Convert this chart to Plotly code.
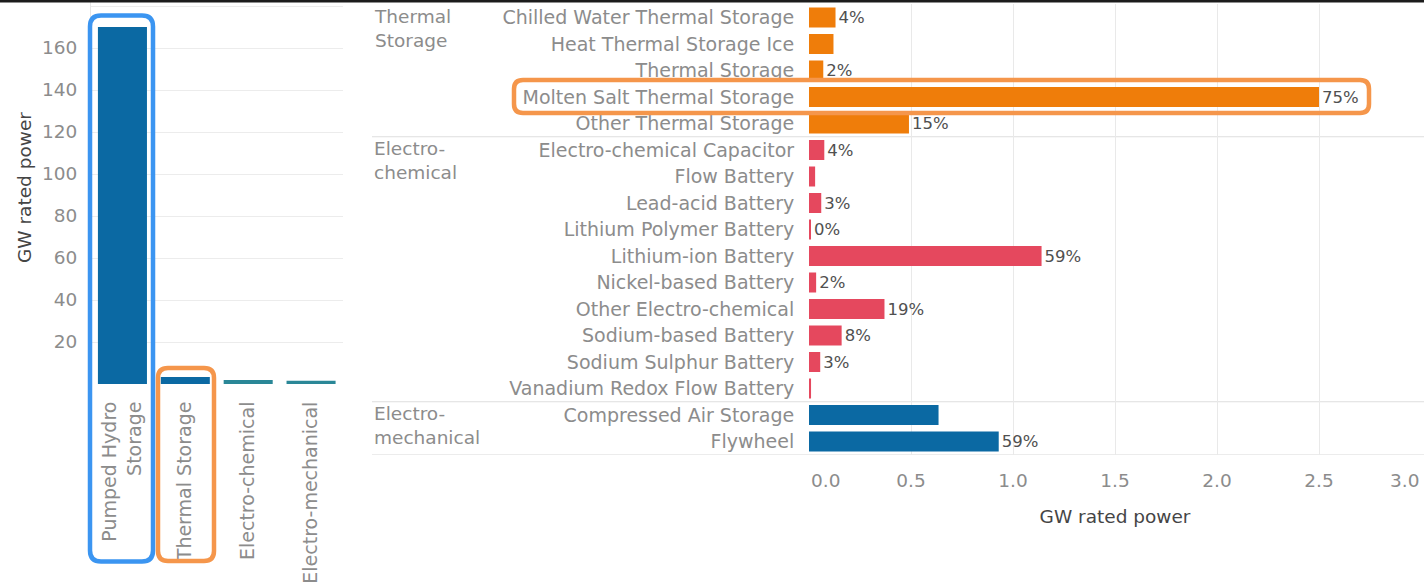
import plotly.graph_objects as go

W, H = 1424, 585
FONT = "DejaVu Sans"
GRAY = "#8c8c8c"
DARK = "#454545"

# ---- left chart data ----
groups = ["Pumped Hydro<br>Storage", "Thermal Storage", "Electro-chemical", "Electro-mechanical"]
group_gw = [170.0, 3.31, 1.94, 1.57]
group_colors = ["#0b69a3", "#0b69a3", "#2a8797", "#2a8797"]
left_ticks = [20, 40, 60, 80, 100, 120, 140, 160, 180]
left_ticktext = ["20", "40", "60", "80", "100", "120", "140", "160", ""]

# ---- right chart data ----
techs = [
    "Chilled Water Thermal Storage", "Heat Thermal Storage Ice", "Thermal Storage",
    "Molten Salt Thermal Storage", "Other Thermal Storage",
    "Electro-chemical Capacitor", "Flow Battery", "Lead-acid Battery",
    "Lithium Polymer Battery", "Lithium-ion Battery", "Nickel-based Battery",
    "Other Electro-chemical", "Sodium-based Battery", "Sodium Sulphur Battery",
    "Vanadium Redox Flow Battery",
    "Compressed Air Storage", "Flywheel",
]
tech_gw = [0.13, 0.12, 0.07, 2.50, 0.49,
           0.075, 0.03, 0.06, 0.006, 1.14, 0.035, 0.37, 0.16, 0.055, 0.01,
           0.635, 0.93]
tech_labels = ["4%", "", "2%", "75%", "15%",
               "4%", "", "3%", "0%", "59%", "2%", "19%", "8%", "3%", "",
               "", "59%"]
tech_group = ["Thermal"] * 5 + ["Electro-chemical"] * 10 + ["Electro-mechanical"] * 2
group_color_map = {"Thermal": "#ef7d0a", "Electro-chemical": "#e5485e", "Electro-mechanical": "#0b69a3"}
group_titles = ["Thermal<br>Storage", "Electro-<br>chemical", "Electro-<br>mechanical"]
group_first_row = [0, 5, 15]
separators = [4.5, 14.5, 16.5]
right_ticks = [0, 0.5, 1.0, 1.5, 2.0, 2.5, 3.0]
right_ticktext = ["", "0.5", "1.0", "1.5", "2.0", "2.5", ""]

def X(x):
    return x / W

def Y(y):
    return 1 - y / H

fig = go.Figure()

fig.add_trace(go.Bar(
    x=groups, y=group_gw, marker=dict(color=group_colors, line=dict(width=0)),
    width=0.78, xaxis="x", yaxis="y", showlegend=False, hoverinfo="x+y"))

fig.add_trace(go.Bar(
    y=techs, x=tech_gw, orientation="h", width=0.755,
    marker=dict(color=[group_color_map[g] for g in tech_group], line=dict(width=0)),
    text=tech_labels, textposition="outside", constraintext="none", cliponaxis=False,
    textfont=dict(family=FONT, size=16.5, color="#505050"),
    xaxis="x2", yaxis="y2", showlegend=False))

shapes = []
# top dark border
shapes.append(dict(type="rect", xref="paper", yref="paper", x0=0, x1=1, y0=Y(2.5), y1=1,
                   fillcolor="#1c1c1c", line=dict(width=0), layer="above"))
for s in separators:
    shapes.append(dict(type="line", xref="paper", yref="y2", x0=X(372), x1=1, y0=s, y1=s,
                       line=dict(color="#dedede", width=1.2), layer="below"))

def rrect(x0, y0, x1, y1, r, color, w=4.5):
    p = (f"M {X(x0+r)},{Y(y0)} L {X(x1-r)},{Y(y0)} Q {X(x1)},{Y(y0)} {X(x1)},{Y(y0+r)} "
         f"L {X(x1)},{Y(y1-r)} Q {X(x1)},{Y(y1)} {X(x1-r)},{Y(y1)} "
         f"L {X(x0+r)},{Y(y1)} Q {X(x0)},{Y(y1)} {X(x0)},{Y(y1-r)} "
         f"L {X(x0)},{Y(y0+r)} Q {X(x0)},{Y(y0)} {X(x0+r)},{Y(y0)} Z")
    return dict(type="path", xref="paper", yref="paper", path=p,
                line=dict(color=color, width=w), fillcolor="rgba(0,0,0,0)", layer="above")

shapes.append(rrect(90, 15.5, 153, 561.5, 11, "#3b95f1"))
shapes.append(rrect(158, 368, 214, 561, 10, "#f5964b"))
shapes.append(rrect(514, 80, 1369, 113, 9, "#f5964b"))

annotations = []
for t, r in zip(group_titles, group_first_row):
    annotations.append(dict(text=t, xref="paper", yref="y2", x=X(372), y=r + 0.4,
                            xanchor="left", yanchor="middle", align="left", showarrow=False,
                            font=dict(family=FONT, size=18.5, color=GRAY)))
# flush end tick labels
annotations.append(dict(text="0.0", xref="x2", yref="paper", x=right_ticks[0], y=Y(480),
                        xanchor="left", yanchor="middle", showarrow=False,
                        font=dict(family=FONT, size=18.5, color=GRAY)))
annotations.append(dict(text="3.0", xref="x2", yref="paper", x=right_ticks[-1], y=Y(480),
                        xanchor="right", yanchor="middle", showarrow=False,
                        font=dict(family=FONT, size=18.5, color=GRAY)))
# left y-axis title
annotations.append(dict(text="GW rated power", xref="paper", yref="paper", x=X(25), y=Y(188),
                        textangle=-90, xanchor="center", yanchor="middle", showarrow=False,
                        font=dict(family=FONT, size=18.5, color=DARK)))

fig.update_layout(
    width=W, height=H, margin=dict(l=0, r=0, t=0, b=0),
    paper_bgcolor="white", plot_bgcolor="white",
    font=dict(family=FONT, size=18.5, color=GRAY),
    shapes=shapes, annotations=annotations,
    xaxis=dict(domain=[X(91), X(342.5)], anchor="y", type="category",
               tickangle=-90, ticks="outside", ticklen=9, tickcolor="rgba(0,0,0,0)",
               showgrid=False, showline=False, zeroline=False,
               tickfont=dict(family=FONT, size=19, color=GRAY)),
    yaxis=dict(domain=[Y(384), 1], anchor="x", range=[0, 384 / 2.1],
               tickvals=left_ticks, ticktext=left_ticktext,
               ticks="outside", ticklen=9, tickcolor="rgba(0,0,0,0)",
               showgrid=True, gridcolor="#ececec", gridwidth=1,
               showline=True, linecolor="#e6e6e6", linewidth=1,
               zeroline=False, tickfont=dict(family=FONT, size=18.5, color=GRAY)),
    xaxis2=dict(domain=[X(809), X(1421)], anchor="y2", range=[0, 3.0],
                tickvals=right_ticks, ticktext=right_ticktext,
                ticks="outside", ticklen=9, tickcolor="rgba(0,0,0,0)",
                showgrid=True, gridcolor="#e9e9e9", gridwidth=1, zeroline=False,
                showline=False,
                tickfont=dict(family=FONT, size=18.5, color=GRAY),
                title=dict(text="GW rated power", standoff=20,
                           font=dict(family=FONT, size=18.5, color=DARK))),
    yaxis2=dict(domain=[Y(454.75), Y(4.25)], anchor="x2", type="category",
                categoryorder="array", categoryarray=techs, range=[16.5, -0.5],
                ticks="outside", ticklen=10, tickcolor="rgba(0,0,0,0)",
                showgrid=False, zeroline=False, showline=False,
                tickfont=dict(family=FONT, size=19, color=GRAY)),
)

fig.write_html("out.html", config={"displayModeBar": False},
               post_script="document.body.style.margin='0';document.body.style.overflow='hidden';")
